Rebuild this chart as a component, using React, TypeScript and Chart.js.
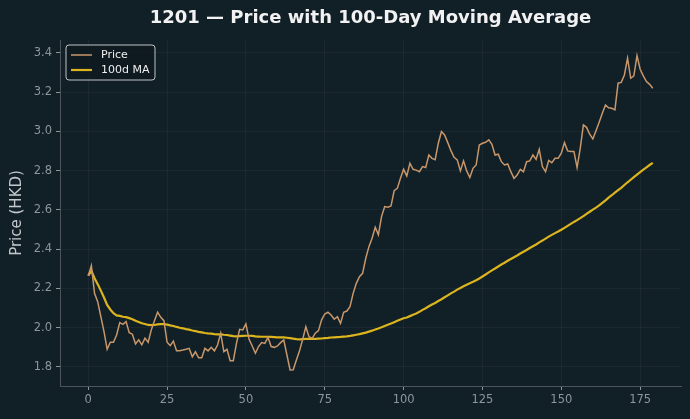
import React, { useEffect, useRef } from "react";
import { Chart, registerables } from "chart.js";

Chart.register(...registerables);

const TITLE = "1201 — Price with 100-Day Moving Average";
const Y_LABEL = "Price (HKD)";
const X_TICKS = [0, 25, 50, 75, 100, 125, 150, 175];
const Y_TICKS = [1.8, 2.0, 2.2, 2.4, 2.6, 2.8, 3.0, 3.2, 3.4];
const SERIES_NAMES = ["Price", "100d MA"];

const PRICE = [
  2.265, 2.316, 2.175, 2.133, 2.056, 1.98, 1.89, 1.926, 1.926, 1.963,
  2.026, 2.017, 2.031, 1.975, 1.967, 1.917, 1.938, 1.913, 1.947, 1.926,
  1.989, 2.036, 2.079, 2.053, 2.036, 1.926, 1.909, 1.932, 1.883, 1.883,
  1.886, 1.89, 1.895, 1.852, 1.877, 1.847, 1.847, 1.895, 1.882, 1.9,
  1.882, 1.912, 1.972, 1.878, 1.89, 1.832, 1.832, 1.92, 1.992, 1.989,
  2.019, 1.941, 1.907, 1.87, 1.904, 1.924, 1.92, 1.951, 1.904, 1.9,
  1.907, 1.924, 1.938, 1.861, 1.785, 1.786, 1.836, 1.882, 1.941, 2.005,
  1.954, 1.946, 1.972, 1.985, 2.04, 2.07, 2.079, 2.065, 2.043, 2.056,
  2.022, 2.079, 2.085, 2.107, 2.175, 2.226, 2.26, 2.277, 2.354, 2.413,
  2.456, 2.512, 2.473, 2.566, 2.617, 2.614, 2.62, 2.698, 2.71, 2.761,
  2.807, 2.773, 2.838, 2.807, 2.803, 2.795, 2.821, 2.816, 2.88, 2.863,
  2.856, 2.94, 3.0, 2.982, 2.943, 2.902, 2.868, 2.855, 2.799, 2.85,
  2.799, 2.765, 2.812, 2.829, 2.931, 2.94, 2.945, 2.957, 2.935, 2.88,
  2.884, 2.846, 2.829, 2.834, 2.795, 2.761, 2.778, 2.807, 2.795, 2.846,
  2.85, 2.88, 2.858, 2.909, 2.821, 2.795, 2.852, 2.841, 2.863, 2.863,
  2.889, 2.943, 2.901, 2.898, 2.898, 2.816, 2.914, 3.033, 3.021, 2.986,
  2.962, 3.004, 3.047, 3.093, 3.135, 3.121, 3.118, 3.11, 3.246, 3.25,
  3.288, 3.373, 3.271, 3.283, 3.386, 3.317, 3.283, 3.254, 3.24, 3.22,
];

const MA100 = [
  2.265, 2.29, 2.252, 2.222, 2.189, 2.154, 2.116, 2.093, 2.074, 2.063,
  2.06, 2.056, 2.054, 2.049, 2.043, 2.035, 2.029, 2.023, 2.019, 2.014,
  2.013, 2.014, 2.017, 2.018, 2.019, 2.016, 2.012, 2.009, 2.004, 2.0,
  1.997, 1.993, 1.99, 1.986, 1.983, 1.979, 1.976, 1.973, 1.971, 1.97,
  1.967, 1.966, 1.966, 1.964, 1.963, 1.96, 1.957, 1.956, 1.957, 1.958,
  1.959, 1.959, 1.958, 1.956, 1.955, 1.954, 1.954, 1.954, 1.953, 1.952,
  1.951, 1.951, 1.951, 1.949, 1.947, 1.944, 1.942, 1.941, 1.942, 1.943,
  1.943, 1.943, 1.943, 1.944, 1.945, 1.947, 1.948, 1.95, 1.951, 1.952,
  1.953, 1.955, 1.956, 1.958, 1.961, 1.964, 1.967, 1.971, 1.975, 1.98,
  1.985, 1.991, 1.996, 2.002, 2.009, 2.015, 2.021, 2.028, 2.035, 2.042,
  2.048, 2.052, 2.059, 2.066, 2.073, 2.081, 2.091, 2.099, 2.109, 2.118,
  2.126, 2.136, 2.145, 2.155, 2.165, 2.175, 2.184, 2.194, 2.202, 2.211,
  2.219, 2.227, 2.234, 2.242, 2.251, 2.261, 2.271, 2.282, 2.292, 2.302,
  2.312, 2.322, 2.331, 2.341, 2.35, 2.359, 2.368, 2.378, 2.387, 2.396,
  2.406, 2.415, 2.424, 2.435, 2.444, 2.454, 2.464, 2.473, 2.482, 2.49,
  2.499, 2.509, 2.519, 2.529, 2.539, 2.548, 2.558, 2.569, 2.58, 2.591,
  2.602, 2.612, 2.623, 2.636, 2.649, 2.663, 2.675, 2.688, 2.701, 2.713,
  2.727, 2.741, 2.754, 2.767, 2.78, 2.793, 2.805, 2.817, 2.829, 2.84,
];

const BG = "#111f27";
const PRICE_COLOR = "#c8976a";
const MA_COLOR = "#dcb51e";
const TICK_COLOR = "#8c969b";
const FONT = "'DejaVu Sans', sans-serif";

const decorPlugin = {
  id: "decor",
  beforeDraw(chart: any) {
    const { ctx, width, height } = chart;
    ctx.save();
    ctx.fillStyle = BG;
    ctx.fillRect(0, 0, width, height);
    ctx.restore();
  },
  afterDraw(chart: any) {
    const { ctx, chartArea } = chart;
    ctx.save();
    // title
    ctx.fillStyle = "#f2f2f2";
    ctx.font = `bold 18px ${FONT}`;
    ctx.textAlign = "center";
    ctx.textBaseline = "middle";
    ctx.fillText(TITLE, (chartArea.left + chartArea.right) / 2, 18);
    // legend
    const lx = chartArea.left + 6;
    const ly = chartArea.top + 5;
    const lw = 89;
    const lh = 35;
    ctx.beginPath();
    const r = 3;
    ctx.moveTo(lx + r, ly);
    ctx.lineTo(lx + lw - r, ly);
    ctx.quadraticCurveTo(lx + lw, ly, lx + lw, ly + r);
    ctx.lineTo(lx + lw, ly + lh - r);
    ctx.quadraticCurveTo(lx + lw, ly + lh, lx + lw - r, ly + lh);
    ctx.lineTo(lx + r, ly + lh);
    ctx.quadraticCurveTo(lx, ly + lh, lx, ly + lh - r);
    ctx.lineTo(lx, ly + r);
    ctx.quadraticCurveTo(lx, ly, lx + r, ly);
    ctx.closePath();
    ctx.fillStyle = "rgba(14,26,32,0.85)";
    ctx.fill();
    ctx.strokeStyle = "#bfc4c7";
    ctx.lineWidth = 1;
    ctx.stroke();
    const ds = chart.data.datasets;
    ds.forEach((d: any, i: number) => {
      const yy = ly + 10 + i * 15;
      ctx.beginPath();
      ctx.strokeStyle = d.borderColor;
      ctx.lineWidth = d.borderWidth;
      ctx.moveTo(lx + 5, yy);
      ctx.lineTo(lx + 26, yy);
      ctx.stroke();
      ctx.fillStyle = "#eeeeee";
      ctx.font = `11px ${FONT}`;
      ctx.textAlign = "left";
      ctx.textBaseline = "middle";
      ctx.fillText(d.label, lx + 35, yy);
    });
    ctx.restore();
  },
};

export default function App() {
  const ref = useRef<HTMLCanvasElement | null>(null);
  useEffect(() => {
    document.body.style.margin = "0";
    document.body.style.background = BG;
    const canvas = ref.current!;
    const chart = new Chart(canvas, {
      type: "line",
      data: {
        datasets: [
          {
            label: SERIES_NAMES[0],
            data: PRICE.map((v, i) => ({ x: i, y: v })),
            borderColor: PRICE_COLOR,
            borderWidth: 1.5,
            pointRadius: 0,
            tension: 0,
          },
          {
            label: SERIES_NAMES[1],
            data: MA100.map((v, i) => ({ x: i, y: v })),
            borderColor: MA_COLOR,
            borderWidth: 2.2,
            pointRadius: 0,
            tension: 0,
          },
        ],
      },
      options: {
        responsive: false,
        animation: false,
        devicePixelRatio: 1,
        layout: { padding: { top: 40, right: 9, left: 0, bottom: 0 } },
        plugins: {
          legend: { display: false },
          title: { display: false },
          tooltip: { enabled: false },
        },
        scales: {
          x: {
            type: "linear",
            min: -8.95,
            max: 187.95,
            afterBuildTicks: (s: any) => {
              s.ticks = X_TICKS.map((v) => ({ value: v }));
            },
            afterFit: (s: any) => {
              s.height = 33;
            },
            grid: {
              color: "rgba(255,255,255,0.045)",
              tickColor: TICK_COLOR,
              tickLength: 4,
              drawTicks: true,
            },
            border: { color: "#4b555a", width: 1 },
            ticks: {
              color: TICK_COLOR,
              font: { family: FONT, size: 11.5 },
              padding: 3,
              maxRotation: 0,
              autoSkip: false,
            },
          },
          y: {
            min: 1.703,
            max: 3.466,
            afterBuildTicks: (s: any) => {
              s.ticks = Y_TICKS.map((v) => ({ value: v }));
            },
            afterFit: (s: any) => {
              s.width = 60;
            },
            grid: {
              color: "rgba(255,255,255,0.045)",
              tickColor: TICK_COLOR,
              tickLength: 4,
              drawTicks: true,
            },
            border: { color: "#4b555a", width: 1 },
            ticks: {
              color: TICK_COLOR,
              font: { family: FONT, size: 11.5 },
              padding: 4,
              autoSkip: false,
              callback: (v: any) => Number(v).toFixed(1),
            },
            title: {
              display: true,
              text: Y_LABEL,
              color: "#c3c9cc",
              font: { family: FONT, size: 15 },
              padding: { top: 8, bottom: 0 },
            },
          },
        },
      },
      plugins: [decorPlugin],
    } as any);
    return () => chart.destroy();
  }, []);
  return (
    <div style={{ position: "fixed", left: 0, top: 0, width: 690, height: 419, background: BG }}>
      <canvas ref={ref} width={690} height={419} style={{ display: "block", width: 690, height: 419 }} />
    </div>
  );
}
